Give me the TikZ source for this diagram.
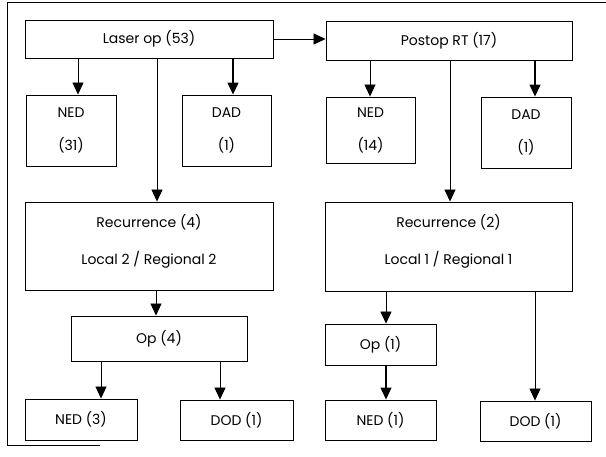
\documentclass[tikz,border=0pt]{standalone}
\usepackage{fontspec}
\setmainfont{Poppins}
\usetikzlibrary{arrows.meta}
\begin{document}
\begin{tikzpicture}[x=1pt,y=-1pt,
  box/.style={draw,line width=0.9pt,inner sep=0pt,align=center,font=\fontsize{14}{17}\selectfont},
  arr/.style={line width=0.8pt,-{Triangle[length=12pt,width=11pt]}},
  frame/.style={line width=1pt}]
\useasboundingbox (0,0) rectangle (606,457);
\fill[white] (0,0) rectangle (606,457);
% frame
\coordinate (f1) at (5,3);
\coordinate (f2) at (606,3);
\coordinate (f3) at (7,446);
\coordinate (f4) at (100,446);
\draw[frame] (f2) -- (f1 -| f3) -- (f3) -- (f4);
% boxes
\node[box,minimum width=248pt,minimum height=38pt] (laser) at (149,39) {Laser op (53)};
\node[box,minimum width=246pt,minimum height=39pt] (postop) at (449,40.5) {Postop RT (17)};
\node[box,minimum width=90pt,minimum height=71pt] (ned1) at (71,130.5) {NED\\[16pt](31)};
\node[box,minimum width=89pt,minimum height=71pt] (dad1) at (226.5,130.5) {DAD\\[16pt](1)};
\node[box,minimum width=89pt,minimum height=66pt] (ned2) at (370.5,130) {NED\\[16pt](14)};
\node[box,minimum width=90pt,minimum height=71pt] (dad2) at (526,132.5) {DAD\\[16pt](1)};
\node[box,minimum width=248pt,minimum height=88pt,text depth=14pt] (rec1) at (149,246) {Recurrence (4)\\[20pt]Local 2 / Regional 2};
\node[box,minimum width=247pt,minimum height=89pt,text depth=14pt] (rec2) at (448.5,246.5) {Recurrence (2)\\[20pt]Local 1 / Regional 1};
\node[box,minimum width=176pt,minimum height=45pt] (op1) at (159,338.5) {Op (4)};
\node[box,minimum width=111pt,minimum height=41pt] (op2) at (380.5,344.5) {Op (1)};
\node[box,minimum width=112pt,minimum height=41pt] (ned3) at (81,419.5) {NED (3)};
\node[box,minimum width=113pt,minimum height=40pt] (dod1) at (236.5,420) {DOD (1)};
\node[box,minimum width=111pt,minimum height=40pt] (ned4) at (380.5,420) {NED (1)};
\node[box,minimum width=111pt,minimum height=40pt] (dod2) at (535.5,421) {DOD (1)};
% arrow columns
\coordinate (x1) at (78,0);
\coordinate (x2) at (233,0);
\coordinate (x3) at (157,0);
\coordinate (x4) at (370,0);
\coordinate (x5) at (535,0);
\coordinate (x6) at (450,0);
\coordinate (x7) at (156,0);
\coordinate (x8) at (101,0);
\coordinate (x9) at (220,0);
\coordinate (x10) at (386,0);
\coordinate (x11) at (535,0);
\coordinate (x12) at (386,0);
% connectors
\draw[arr] (laser.east) -- (postop.west |- laser.east);
\draw[arr] (laser.south -| x1) -- (ned1.north -| x1);
\draw[arr,line width=1.3pt] (laser.south -| x2) -- (dad1.north -| x2);
\draw[arr] (laser.south -| x3) -- (rec1.north -| x3);
\draw[arr] (postop.south -| x4) -- (ned2.north -| x4);
\draw[arr,line width=1.3pt] (postop.south -| x5) -- (dad2.north -| x5);
\draw[arr] (postop.south -| x6) -- (rec2.north -| x6);
\draw[arr] (rec1.south -| x7) -- (op1.north -| x7);
\draw[arr] (op1.south -| x8) -- (ned3.north -| x8);
\draw[arr] (op1.south -| x9) -- (dod1.north -| x9);
\draw[arr] (rec2.south -| x10) -- (op2.north -| x10);
\draw[arr,line width=1.1pt] (op2.south -| x12) -- (ned4.north -| x12);
\draw[arr] (rec2.south -| x11) -- (dod2.north -| x11);
\end{tikzpicture}
\end{document}
